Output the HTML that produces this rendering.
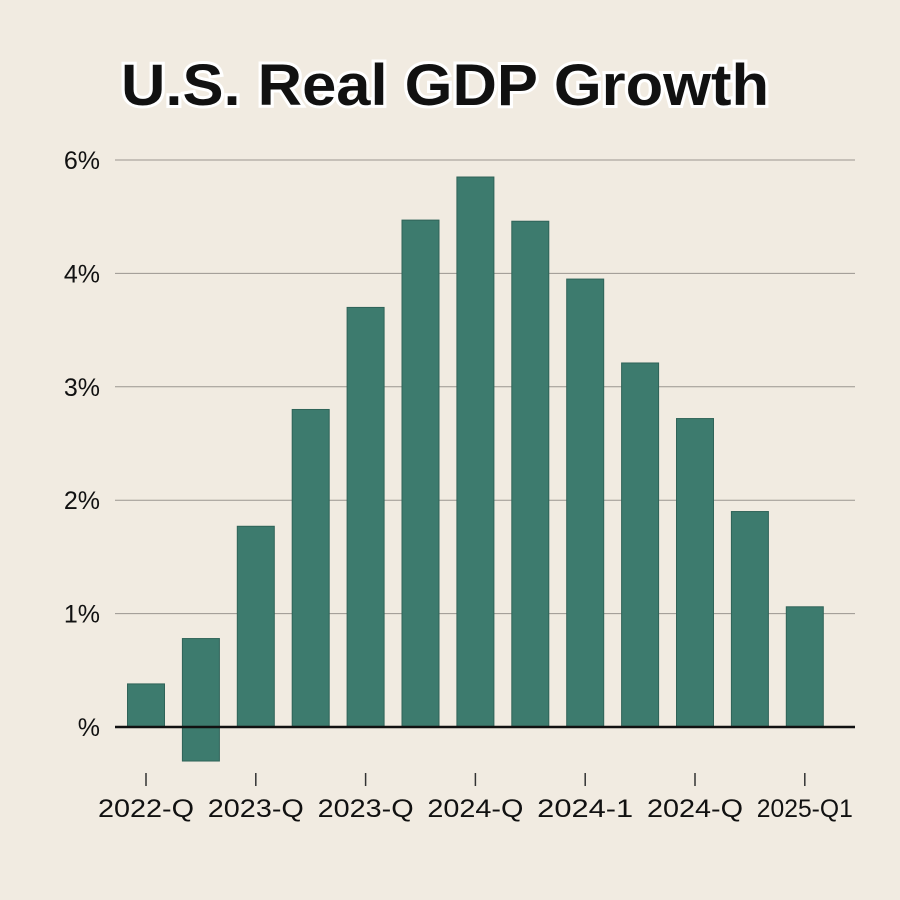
<!DOCTYPE html>
<html><head><meta charset="utf-8"><style>
body{margin:0;background:#f1ebe1;}
svg{display:block;font-family:"Liberation Sans",sans-serif;}
</style></head><body>
<svg id="chart" width="900" height="900">
<rect width="900" height="900" fill="#f1ebe1"/>
<text x="445" y="105" text-anchor="middle" font-size="58" font-weight="bold" fill="#111" stroke="#fff" stroke-width="6" paint-order="stroke" textLength="648" lengthAdjust="spacingAndGlyphs">U.S. Real GDP Growth</text>
<g id="grid"></g><g id="bars"></g><g id="axes"></g>
</svg>
<script>
const tickLabels = ["%","1%","2%","3%","4%","6%"];
const barHigh = [0.38,0.78,1.77,2.80,3.70,4.47,4.85,4.46,3.95,3.21,2.72,1.90,1.06];
const barLow = [0,-0.30,0,0,0,0,0,0,0,0,0,0,0];
const xLabels = ["2022-Q","2023-Q","2023-Q","2024-Q","2024-1","2024-Q","2025-Q1"];
const NS="http://www.w3.org/2000/svg";
const y0=727, unit=113.4, x0=146, step=54.9, bw=37, left=115, right=855;
const yScale=v=>y0-v*unit;
const xScale=i=>x0+i*step;
function mk(tag,attrs,parent){const e=document.createElementNS(NS,tag);for(const k in attrs)e.setAttribute(k,attrs[k]);parent.appendChild(e);return e;}
const grid=document.getElementById('grid'),bars=document.getElementById('bars'),axes=document.getElementById('axes');
tickLabels.forEach((t,i)=>{
  const y=yScale(i);
  if(i>0){const l=mk('line',{x1:left,x2:right,y1:y,y2:y,stroke:'#9a968f','stroke-width':1},grid);
  
  }
  const tx=mk('text',{x:100,y:y+9,'text-anchor':'end','font-size':25,fill:'#111'},grid);
  tx.textContent=t;
  
  
});
barHigh.forEach((v,i)=>{
  const lo=barLow[i];
  const r=mk('rect',{x:xScale(i)-bw/2,y:yScale(v),width:bw,height:yScale(lo)-yScale(v),fill:'#3d7b6e',stroke:'#2f6358','stroke-width':1},bars);
  
  
});
const ax=mk('line',{x1:left,x2:right,y1:y0,y2:y0,stroke:'#111','stroke-width':2.5},axes);


xLabels.forEach((t,i)=>{
  const x=xScale(i*2);
  const tk=mk('line',{x1:x,x2:x,y1:773,y2:786,stroke:'#333','stroke-width':1.5},axes);
  
  
  const tx=mk('text',{x:x,y:817,'text-anchor':'middle','font-size':25,fill:'#111',textLength:96,lengthAdjust:'spacingAndGlyphs'},axes);
  tx.textContent=t;
  
  
});
</script>
</body></html>
